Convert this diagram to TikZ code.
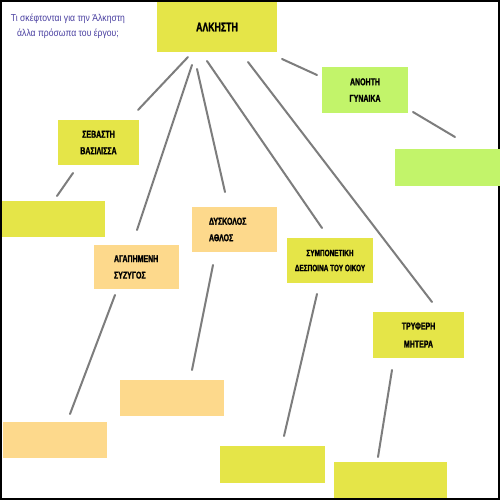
\documentclass[tikz,border=0pt]{standalone}
\usepackage{fontspec}
\setmainfont{Liberation Sans}
\newfontfamily\lblfont{Liberation Sans}[FakeStretch=0.7, BoldFeatures={FakeBold=1.5}]
\newfontfamily\qfont{Liberation Sans}[FakeStretch=0.86]
\definecolor{cyel}{RGB}{229,229,72}
\definecolor{cgrn}{RGB}{194,244,106}
\definecolor{corg}{RGB}{253,217,140}
\definecolor{cline}{RGB}{125,125,125}
\definecolor{cq}{RGB}{72,62,160}
\tikzset{
  box/.style={draw=none, inner sep=0pt, outer sep=0pt, align=center,
    font=\lblfont\bfseries\fontsize{10}{16.5}\selectfont},
  conn/.style={draw=cline, line width=2pt, line cap=round},
}
\begin{document}
\begin{tikzpicture}[x=1pt,y=-1pt]
\useasboundingbox (0,0) rectangle (500,500);
\fill[white] (0,0) rectangle (500,500);
\draw[black, line width=2pt] (1,1) rectangle (499,499);
% question
\node[text=cq, align=center, font=\qfont\fontsize{10}{15}\selectfont] (q) at (68,26)
  {Τι σκέφτονται για την Άλκηστη\\άλλα πρόσωπα του έργου;};
% boxes
\node[box, fill=cyel, minimum width=120, minimum height=50, font=\lblfont\bfseries\fontsize{12.5}{15}\selectfont] (alk) at (217,27) {ΑΛΚΗΣΤΗ};
\node[box, fill=cgrn, minimum width=86, minimum height=46] (ano) at (365,90) {ΑΝΟΗΤΗ\\ΓΥΝΑΙΚΑ};
\node[box, fill=cgrn, minimum width=105, minimum height=37] (egr) at (447.5,167.5) {};
\node[box, fill=cyel, minimum width=81, minimum height=45] (seb) at (98.5,142.5) {ΣΕΒΑΣΤΗ\\ΒΑΣΙΛΙΣΣΑ};
\node[box, fill=cyel, minimum width=103, minimum height=36] (ey1) at (53.5,219) {};
\node[box, fill=corg, minimum width=85, minimum height=44, align=left, text width=45] (aga) at (136.5,267) {ΑΓΑΠΗΜΕΝΗ\\ΣΥΖΥΓΟΣ};
\node[box, fill=corg, minimum width=85, minimum height=45, align=left, text width=51] (dys) at (234.5,229.5) {ΔΥΣΚΟΛΟΣ\\ΑΘΛΟΣ};
\node[box, fill=cyel, minimum width=86, minimum height=45, font=\lblfont\bfseries\fontsize{9.2}{15}\selectfont] (sym) at (330,260.5) {ΣΥΜΠΟΝΕΤΙΚΗ\\ΔΕΣΠΟΙΝΑ ΤΟΥ ΟΙΚΟΥ};
\node[box, fill=cyel, minimum width=91, minimum height=46, font=\lblfont\bfseries\fontsize{10}{18}\selectfont] (try) at (418.5,335) {ΤΡΥΦΕΡΗ\\ΜΗΤΕΡΑ};
\node[box, fill=corg, minimum width=104, minimum height=36] (eo1) at (55,440) {};
\node[box, fill=corg, minimum width=104, minimum height=36] (eo2) at (172,398) {};
\node[box, fill=cyel, minimum width=105, minimum height=37] (ey2) at (272.5,464.5) {};
\node[box, fill=cyel, minimum width=113, minimum height=36] (ey3) at (390.5,480) {};
% connector end points
\coordinate (a1) at (188,57);  \coordinate (b1) at (138,110);
\coordinate (a2) at (192,65);  \coordinate (b2) at (137,230);
\coordinate (a3) at (197,69);  \coordinate (b3) at (225,192);
\coordinate (a4) at (207,61);  \coordinate (b4) at (322,228);
\coordinate (a5) at (248,62);  \coordinate (b5) at (432,302);
\coordinate (a6) at (282,59);  \coordinate (b6) at (317,75);
\coordinate (a7) at (413,112); \coordinate (b7) at (455,137);
\coordinate (a8) at (73,173);  \coordinate (b8) at (57,196);
\coordinate (a9) at (115,295); \coordinate (b9) at (70,414);
\coordinate (a10) at (213,265); \coordinate (b10) at (192,370);
\coordinate (a11) at (317,294); \coordinate (b11) at (284,436);
\coordinate (a12) at (392,370); \coordinate (b12) at (378,457);
\foreach \i in {1,...,12} {\draw[conn] (a\i) -- (b\i);}
\end{tikzpicture}
\end{document}
